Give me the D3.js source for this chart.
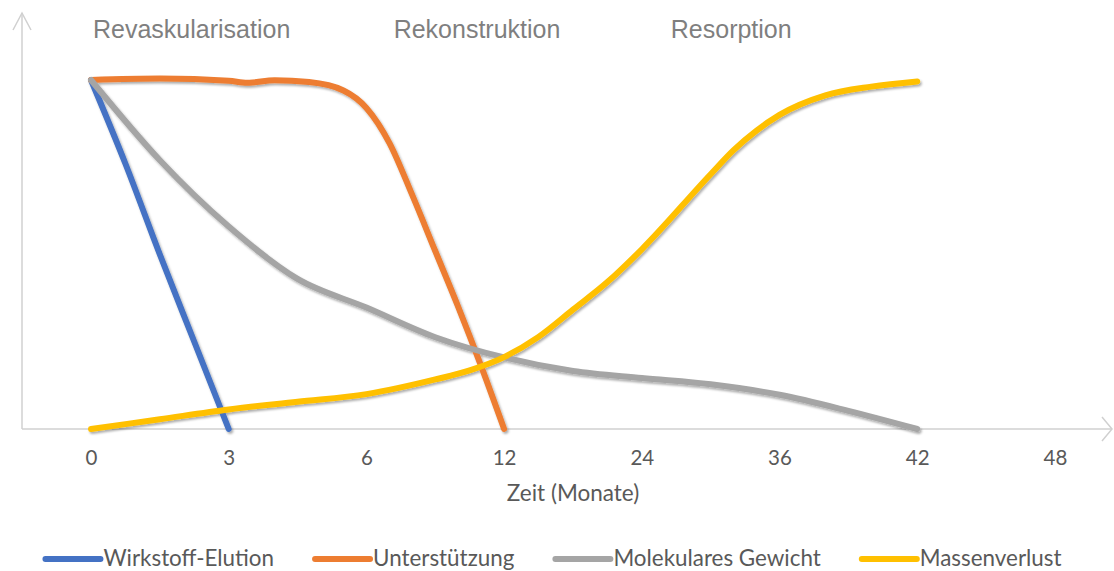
<!DOCTYPE html>
<html>
<head>
<meta charset="utf-8">
<script src="https://cdn.jsdelivr.net/npm/d3@7"></script>
<style>
  html, body { margin: 0; padding: 0; background: #fff; }
  svg { display: block; }
</style>
</head>
<body>
<svg id="chart" width="1114" height="571"></svg>
<script>
// Time axis categories (months), equally spaced on the axis
const months = [0, 3, 6, 12, 24, 36, 42, 48];
const tickLabels = ["0", "3", "6", "12", "24", "36", "42", "48"];

// Phase headings
const phases = ["Revaskularisation", "Rekonstruktion", "Resorption"];
const phaseStartMonths = [0, 7.1, 26.35];

// Series: [month, relative value in %]
const wirkstoffElution = [[0, 100], [0.75, 76], [1.5, 50], [2.25, 25], [3, 0]];
const unterstuetzung = [[0, 100], [1.5, 100.4], [3, 99.8], [3.4, 99.2], [4, 99.9], [4.75, 99.4],
  [5.5, 97], [6, 92], [7, 82], [8, 67], [9, 51], [10, 35], [11, 18], [12, 0]];
const molekularesGewicht = [[0, 100], [1.5, 77], [3, 58], [4.5, 43], [6, 34.8], [9, 26.3],
  [12, 20.5], [18, 16.6], [24, 14.6], [30, 12.8], [36, 9.8], [39, 5.2], [42, 0]];
const massenverlust = [[0, 0], [1.5, 2.8], [3, 5.6], [4.5, 7.8], [6, 10], [9, 14.2], [10.5, 16.8],
  [12, 20.6], [15, 26.4], [18, 34.2], [21, 42.1], [24, 51.5], [30, 73], [32, 79.9], [34, 85.5],
  [36, 90], [38, 95.6], [40, 98.1], [42, 99.6]];

const seriesNames = ["Wirkstoff-Elution", "Unterstützung", "Molekulares Gewicht", "Massenverlust"];
const seriesValues = [wirkstoffElution, unterstuetzung, molekularesGewicht, massenverlust];
const seriesColors = ["#4472C4", "#ED7D31", "#A5A5A5", "#FFC000"];

const svg = d3.select("#chart");
const bodyFont = "Lato, 'Open Sans', sans-serif";
const textColor = "#595959";

const x0 = 91, step = 137.7;
const x = d3.scaleLinear()
  .domain(months)
  .range(months.map((_, i) => x0 + i * step));
const y = d3.scaleLinear().domain([0, 100]).range([429, 80]);

// soft shadow under the lines
const defs = svg.append("defs");
const f = defs.append("filter").attr("id", "shadow")
  .attr("x", "-10%").attr("y", "-10%").attr("width", "130%").attr("height", "130%");
f.append("feDropShadow")
  .attr("dx", 1.5).attr("dy", 2).attr("stdDeviation", 1.3)
  .attr("flood-color", "#000").attr("flood-opacity", 0.32);

const axisColor = "#d0d0d0";
const axisY = y(0);

// vertical axis with arrow
svg.append("line").attr("x1", 22).attr("x2", 22).attr("y1", axisY).attr("y2", 13)
  .attr("stroke", axisColor).attr("stroke-width", 1.5);
svg.append("path").attr("d", "M13,30 L22,13 L31,30")
  .attr("fill", "none").attr("stroke", axisColor).attr("stroke-width", 1.5);

// horizontal axis with arrow
svg.append("line").attr("x1", 22).attr("x2", 1112).attr("y1", axisY).attr("y2", axisY)
  .attr("stroke", axisColor).attr("stroke-width", 1.5);
svg.append("path").attr("d", `M1102,${axisY - 12} L1112,${axisY} L1102,${axisY + 12}`)
  .attr("fill", "none").attr("stroke", axisColor).attr("stroke-width", 1.5);

// tick labels
const xAxis = d3.axisBottom(x).tickValues(months).tickSize(0).tickPadding(0)
  .tickFormat((d, i) => tickLabels[i]);
const gx = svg.append("g").attr("transform", `translate(0,${axisY})`).call(xAxis);
gx.select(".domain").remove();
gx.selectAll("text")
  .attr("y", 36).attr("dy", null)
  .attr("font-family", bodyFont)
  .attr("font-size", 20.5).attr("fill", textColor);

// axis title
svg.append("text").attr("x", 573).attr("y", 501).attr("text-anchor", "middle")
  .attr("font-family", bodyFont).attr("font-size", 22.5)
  .attr("fill", textColor).text("Zeit (Monate)");

// phase headings
svg.selectAll("text.phase").data(phases).join("text")
  .attr("class", "phase")
  .attr("x", (d, i) => x(phaseStartMonths[i]) + 2)
  .attr("y", 38)
  .attr("font-family", "'Liberation Sans', Arial, sans-serif")
  .attr("font-size", 25).attr("fill", "#7f7f7f")
  .text(d => d);

// lines
const line = d3.line().x(d => x(d[0])).y(d => y(d[1])).curve(d3.curveMonotoneX);
svg.append("g").attr("filter", "url(#shadow)")
  .selectAll("path").data(seriesValues).join("path")
  .attr("d", line)
  .attr("fill", "none")
  .attr("stroke", (d, i) => seriesColors[i])
  .attr("stroke-width", 6)
  .attr("stroke-linecap", "round")
  .attr("stroke-linejoin", "round");

// legend
const legend = svg.append("g");
const swatch = 61, gap = 38;
const items = legend.selectAll("g").data(seriesNames).join("g");
items.append("line")
  .attr("x1", 3).attr("x2", swatch - 3).attr("y1", 0).attr("y2", 0)
  .attr("stroke", (d, i) => seriesColors[i]).attr("stroke-width", 6)
  .attr("stroke-linecap", "round");
items.append("text")
  .attr("x", swatch).attr("y", 7)
  .attr("font-family", bodyFont).attr("font-size", 22.4).attr("fill", textColor)
  .text(d => d);
const widths = [];
items.each(function () {
  widths.push(swatch + this.querySelector("text").getComputedTextLength());
});
const total = d3.sum(widths) + gap * (widths.length - 1);
let start = 552 - total / 2;
items.attr("transform", (d, i) => {
  const t = `translate(${start},559)`;
  start += widths[i] + gap;
  return t;
});
</script>
</body>
</html>
